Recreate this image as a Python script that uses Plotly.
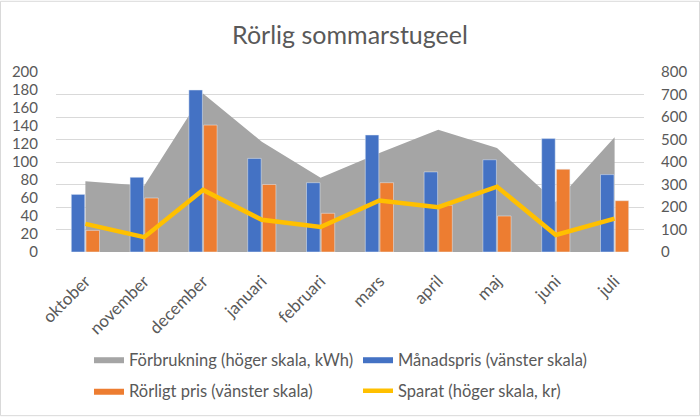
import plotly.graph_objects as go

months = ["oktober", "november", "december", "januari", "februari",
          "mars", "april", "maj", "juni", "juli"]
forbrukning = [315, 295, 705, 490, 330, 440, 543, 462, 222, 510]   # kWh, right scale
manadspris = [64, 83, 180, 104, 77, 130, 89, 102.5, 126, 86]       # left scale
rorligt_pris = [24, 60, 141, 75, 43, 77, 52, 40, 92, 57]           # left scale
sparat = [125, 66, 276, 143, 111, 229, 199, 290, 76, 148]          # kr, right scale

left_ticks = list(range(0, 201, 20))
right_ticks = list(range(0, 801, 100))

FONT = "Lato"
TXT = "#595959"
GRID = "#d9d9d9"

fig = go.Figure()

fig.add_trace(go.Scatter(
    x=months, y=forbrukning, name="Förbrukning (höger skala, kWh)",
    mode="lines", fill="tozeroy", fillcolor="#a5a5a5",
    line=dict(color="#a5a5a5", width=0), yaxis="y", legend="legend"))

fig.add_trace(go.Bar(
    x=months, y=manadspris, name="Månadspris (vänster skala)",
    marker_color="#4472c4", yaxis="y2", legend="legend", showlegend=False))
fig.add_trace(go.Bar(
    x=months, y=rorligt_pris, name="Rörligt pris (vänster skala)",
    marker_color="#ed7d31", yaxis="y2", legend="legend2", showlegend=False))

# legend swatches shaped like the reference (wide flat rectangles)
fig.add_trace(go.Scatter(
    x=[None], y=[None], name="Månadspris (vänster skala)", mode="lines",
    fill="toself", fillcolor="#4472c4", line=dict(color="#4472c4", width=0),
    yaxis="y2", legend="legend"))
fig.add_trace(go.Scatter(
    x=[None], y=[None], name="Rörligt pris (vänster skala)", mode="lines",
    fill="toself", fillcolor="#ed7d31", line=dict(color="#ed7d31", width=0),
    yaxis="y2", legend="legend2"))

fig.add_trace(go.Scatter(
    x=months, y=sparat, name="Sparat (höger skala, kr)", mode="lines",
    line=dict(color="#ffc000", width=4.5), yaxis="y3", legend="legend2"))

W, H = 700, 420
ml, mr, mt, mb = 56, 56, 72, 166
pw, ph = W - ml - mr, H - mt - mb

def px_x(x):
    return (x - ml) / pw

def px_y(y):
    return (H - mb - y) / ph

legend_common = dict(
    orientation="h", xanchor="left", yanchor="top", entrywidth=224,
    font=dict(family=FONT, size=16.5, color=TXT), bgcolor="rgba(0,0,0,0)",
    traceorder="normal")

fig.update_layout(
    width=W, height=H,
    margin=dict(l=ml, r=mr, t=mt, b=mb),
    paper_bgcolor="white", plot_bgcolor="white",
    font=dict(family=FONT, size=14, color=TXT),
    title=dict(text="Rörlig sommarstugeel", x=0.5, xanchor="center",
               y=1 - 35 / H, yanchor="middle",
               font=dict(family=FONT, size=25, color=TXT)),
    barmode="group", bargap=0.5, bargroupgap=0.08,
    xaxis=dict(type="category", tickangle=-45, showgrid=False, showline=False,
               zeroline=False, ticks="", ticklabelstandoff=15,
               tickfont=dict(size=17, color=TXT)),
    yaxis=dict(side="right", range=[0, 800], tickvals=right_ticks,
               showgrid=True, gridcolor=GRID, gridwidth=1, zeroline=False,
               showline=False, ticks="", ticklabelstandoff=16,
               tickfont=dict(size=15, color=TXT)),
    yaxis2=dict(overlaying="y", side="left", range=[0, 200], tickvals=left_ticks,
                showgrid=False, zeroline=False, showline=False, ticks="",
                ticklabelstandoff=17, tickfont=dict(size=15, color=TXT)),
    yaxis3=dict(overlaying="y", side="right", range=[0, 800], visible=False),
    legend=dict(x=px_x(89), y=px_y(345), **legend_common),
    legend2=dict(x=px_x(89), y=px_y(377), **legend_common),
    shapes=[dict(type="rect", xref="paper", yref="paper",
                 x0=px_x(0.5), x1=px_x(W - 0.5), y0=px_y(H - 0.5), y1=px_y(0.5),
                 line=dict(color=GRID, width=1), layer="below")],
    showlegend=True,
)

fig.write_html("out.html")
